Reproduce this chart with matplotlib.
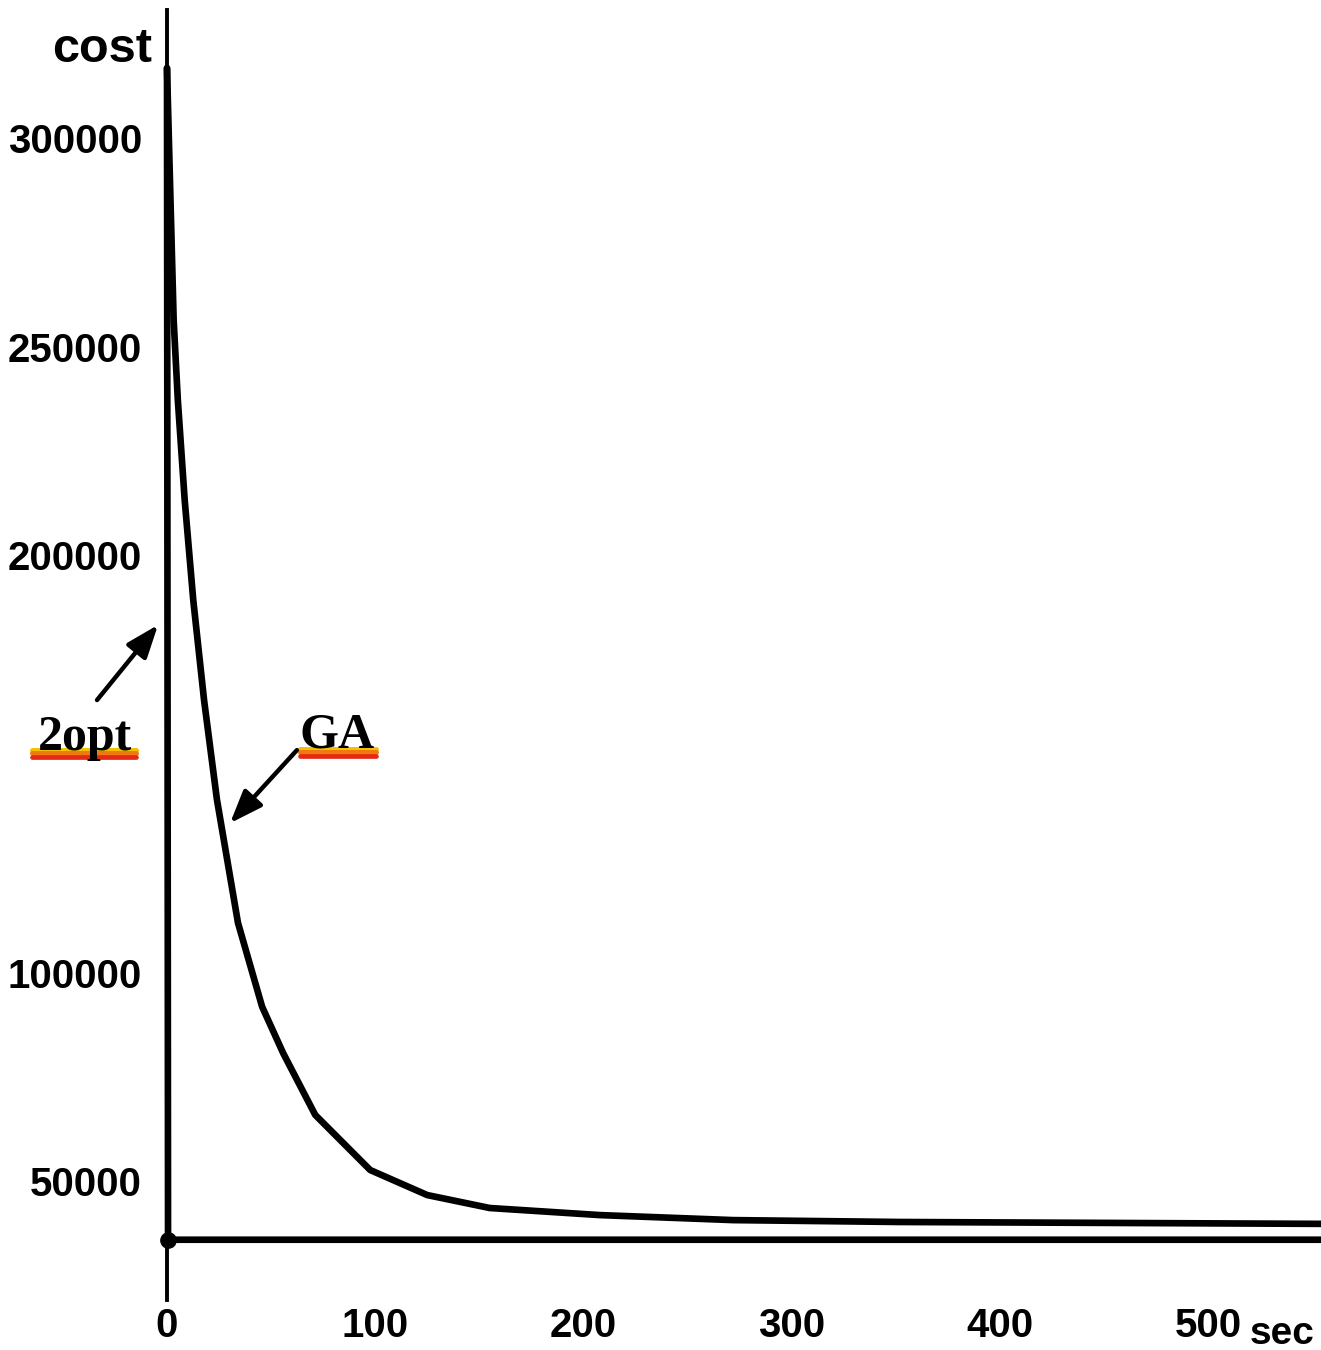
import matplotlib
matplotlib.use("Agg")
import matplotlib.pyplot as plt
from matplotlib.lines import Line2D

# Convergence of tour cost over run time
time_ga = [0, 3.2, 5.2, 8.5, 12.6, 17.8, 24, 34.1, 45.7, 55.8, 71.2, 97.6, 125, 155,
           208, 272, 352, 555]
cost_ga = [316700, 256300, 237200, 213200, 189300, 165300, 141400, 111900, 91800,
           80700, 65900, 52700, 46700, 43600, 41900, 40700, 40250, 39800]

time_2opt = [0, 0.5, 555]
cost_2opt = [316700, 36000, 36000]

x_ticks = [0, 100, 200, 300, 400, 500]
x_tick_labels = ["0", "100", "200", "300", "400", "500"]
y_ticks = [50000, 100000, 200000, 250000, 300000]
y_tick_labels = ["50000", "100000", "200000", "250000", "300000"]

W, H = 1321, 1350
fig = plt.figure(figsize=(W / 100, H / 100), dpi=100)
fig.patch.set_facecolor("white")

ax = fig.add_axes([167 / W, 50 / H, 1 - 167 / W, 1290 / H])
ax.patch.set_visible(False)
ax.set_xlim(0, 554.3)
ax.set_ylim(21560, 330620)

for s in ("top", "right", "bottom"):
    ax.spines[s].set_visible(False)
ax.spines["left"].set_linewidth(2.8)
ax.spines["left"].set_color("black")

line_kw = dict(color="black", lw=4.8, solid_joinstyle="round", solid_capstyle="round", clip_on=False)
ax.plot(time_ga, cost_ga, **line_kw)
ax.plot(time_2opt, cost_2opt, **line_kw)
ax.plot([time_2opt[1]], [cost_2opt[1]], "o", color="black", ms=11, clip_on=False, zorder=5)

tick_font = dict(family="Liberation Sans", weight="bold", size=29)
ax.set_xticks(x_ticks)
ax.set_xticklabels(x_tick_labels, fontdict=tick_font)
ax.set_yticks(y_ticks)
ax.set_yticklabels(y_tick_labels, fontdict=tick_font)
ax.tick_params(axis="both", length=0)
ax.tick_params(axis="y", pad=18)
ax.tick_params(axis="x", pad=5)

# axis titles
fig.text(152 / W, 1 - 62 / H, "cost", ha="right", va="baseline",
         family="Liberation Sans", weight="bold", size=35)
fig.text(1250 / W, 1 - 1344 / H, "sec", ha="left", va="baseline",
         family="Liberation Sans", weight="bold", size=28)

# marker-pen underlines beneath the series names: yellow top edge, red lower edge
for x0, x1, yy in [(32, 136, 753), (300, 376, 752)]:
    for col, dy, lw in [("#f6c000", -3.5, 3.6), ("#f07a12", 0, 3.6), ("#e42a14", 3.5, 3.4)]:
        ax.add_line(Line2D([x0 / W, x1 / W], [1 - (yy + dy) / H, 1 - (yy + dy) / H],
                           transform=fig.transFigure, color=col, lw=lw,
                           solid_capstyle="round", zorder=0.5, clip_on=False))

label_font = dict(family="Liberation Serif", weight="bold", size=36)
ax.text(-39.4, 153400, "2opt", ha="center", va="baseline", zorder=6, clip_on=False, **label_font)
ax.text(81.7, 154000, "GA", ha="center", va="baseline", zorder=6, clip_on=False, **label_font)

arrow_kw = dict(arrowstyle="-|>,head_length=1.0,head_width=0.38", lw=3.2, color="black",
                shrinkA=0, shrinkB=0, mutation_scale=20)
ax.annotate("", xy=(-4.3, 183300), xytext=(-33.6, 165300), arrowprops=arrow_kw,
            annotation_clip=False)
ax.annotate("", xy=(30.3, 135800), xytext=(62.4, 153300), arrowprops=arrow_kw,
            annotation_clip=False)

fig.savefig("out.png", dpi=100, facecolor="white")
